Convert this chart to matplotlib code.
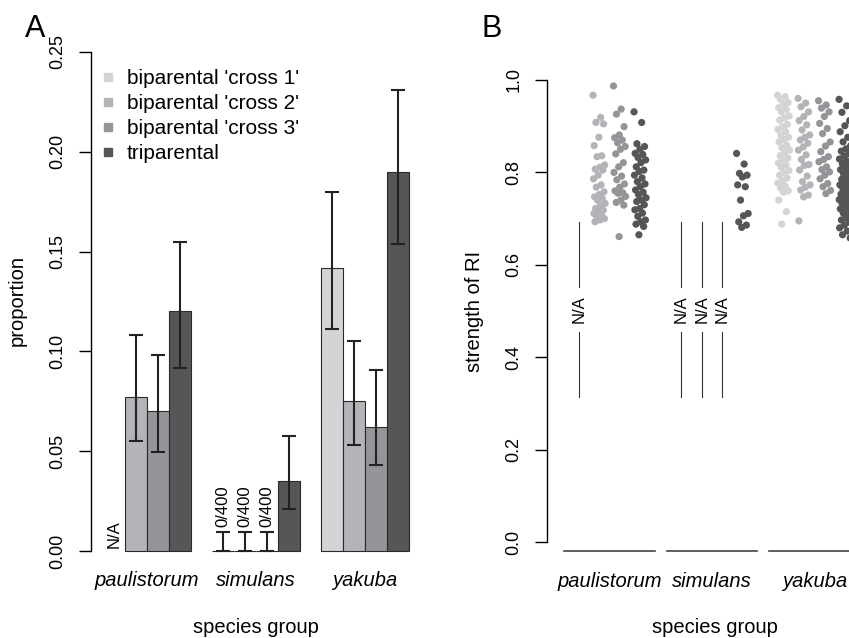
import numpy as np
import matplotlib
matplotlib.use("Agg")
import matplotlib.pyplot as plt
from matplotlib.lines import Line2D

plt.rcParams["font.family"] = ["Liberation Sans", "DejaVu Sans"]

nan = np.nan

groups = ["paulistorum", "simulans", "yakuba"]
series = ["biparental 'cross 1'", "biparental 'cross 2'",
          "biparental 'cross 3'", "triparental"]
colors = ["#d3d4d6", "#b3b4b7", "#949598", "#545658"]

# panel A: proportion, one row per series, one value per group (nan = N/A)
prop = [[nan, 0.0, 0.142],
        [0.077, 0.0, 0.075],
        [0.070, 0.0, 0.062],
        [0.120, 0.035, 0.190]]
prop_lo = [[nan, 0.0, 0.111],
           [0.055, 0.0, 0.053],
           [0.0495, 0.0, 0.043],
           [0.0915, 0.021, 0.154]]
prop_hi = [[nan, 0.0095, 0.180],
           [0.108, 0.0095, 0.105],
           [0.098, 0.0095, 0.0905],
           [0.155, 0.0575, 0.231]]
zero_count = "0/400"

# panel B: strength of RI per cross (None = N/A)
ri_paul_c2 = [0.967, 0.919, 0.908, 0.905, 0.876, 0.858, 0.836, 0.834, 0.816,
              0.811, 0.807, 0.805, 0.794, 0.786, 0.773, 0.768, 0.758, 0.752,
              0.747, 0.744, 0.740, 0.733, 0.728, 0.722, 0.718, 0.715, 0.711,
              0.708, 0.704, 0.700, 0.697, 0.693]
ri_paul_c3 = [0.987, 0.937, 0.926, 0.899, 0.881, 0.875, 0.870, 0.864, 0.856,
              0.850, 0.840, 0.821, 0.812, 0.800, 0.792, 0.784, 0.775, 0.768,
              0.760, 0.756, 0.755, 0.748, 0.740, 0.735, 0.729, 0.661]
ri_paul_tri = [0.931, 0.908, 0.862, 0.856, 0.850, 0.841, 0.839, 0.832, 0.827,
               0.821, 0.812, 0.805, 0.802, 0.794, 0.788, 0.780, 0.775, 0.769,
               0.762, 0.757, 0.752, 0.745, 0.740, 0.737, 0.730, 0.722, 0.719,
               0.712, 0.705, 0.697, 0.693, 0.688, 0.683, 0.665]
ri_sim_tri = [0.841, 0.818, 0.798, 0.794, 0.790, 0.773, 0.769, 0.740, 0.711,
              0.706, 0.693, 0.686, 0.681]
ri_yak_c1 = [0.967, 0.964, 0.958, 0.951, 0.947, 0.940, 0.936, 0.931, 0.922,
             0.918, 0.913, 0.904, 0.899, 0.893, 0.888, 0.880, 0.876, 0.871,
             0.866, 0.859, 0.853, 0.848, 0.843, 0.836, 0.831, 0.827, 0.820,
             0.816, 0.811, 0.804, 0.799, 0.794, 0.788, 0.781, 0.777, 0.770,
             0.766, 0.760, 0.757, 0.740, 0.715, 0.688]
ri_yak_c2 = [0.960, 0.950, 0.942, 0.931, 0.921, 0.912, 0.903, 0.892, 0.881,
             0.876, 0.870, 0.863, 0.855, 0.848, 0.838, 0.828, 0.817, 0.815,
             0.805, 0.792, 0.780, 0.773, 0.768, 0.762, 0.751, 0.747, 0.695]
ri_yak_c3 = [0.955, 0.946, 0.939, 0.931, 0.921, 0.906, 0.895, 0.884, 0.866,
             0.857, 0.845, 0.834, 0.828, 0.823, 0.812, 0.806, 0.801, 0.794,
             0.786, 0.776, 0.769, 0.761, 0.754]
ri_yak_tri = [0.958, 0.944, 0.930, 0.912, 0.901, 0.888, 0.876, 0.866, 0.858,
              0.851, 0.846, 0.840, 0.835, 0.829, 0.824, 0.819, 0.815, 0.810,
              0.806, 0.801, 0.797, 0.793, 0.789, 0.785, 0.781, 0.777, 0.773,
              0.769, 0.765, 0.761, 0.757, 0.753, 0.749, 0.745, 0.741, 0.737,
              0.733, 0.729, 0.725, 0.721, 0.716, 0.712, 0.707, 0.702, 0.697,
              0.692, 0.686, 0.680, 0.673, 0.665, 0.658]
ri_columns = [[None, ri_paul_c2, ri_paul_c3, ri_paul_tri],
              [None, None, None, ri_sim_tri],
              [ri_yak_c1, ri_yak_c2, ri_yak_c3, ri_yak_tri]]
na_span = (0.3145, 0.693)


def main() -> None:
    fig = plt.figure(figsize=(8.49, 6.38), dpi=100)

    # ---------------- panel A ----------------
    ax = fig.add_axes([91 / 849, 67 / 638, 330 / 849, 539 / 638])
    for k in range(4):
        for g in range(3):
            x = 1 + 5 * g + k + 0.5
            h = prop[k][g]
            if np.isnan(h):
                ax.text(x, 0.0015, "N/A", rotation=90, ha="center",
                        va="bottom", fontsize=12)
                continue
            ax.bar(x, h, width=1, color=colors[k], edgecolor="#2a2a2a",
                   linewidth=0.8, zorder=2)
            ax.errorbar(x, h, yerr=[[h - prop_lo[k][g]], [prop_hi[k][g] - h]],
                        fmt="none", ecolor="#222222", elinewidth=1.5,
                        capsize=4.7, capthick=1.5, zorder=3)
            if h == 0:
                ax.text(x, 0.012, zero_count, rotation=90, ha="center",
                        va="bottom", fontsize=12)

    ax.set_xlim(0.44, 15.56)
    ax.set_ylim(-0.01, 0.26)
    for s in ["top", "right", "bottom"]:
        ax.spines[s].set_visible(False)
    ax.spines["left"].set_bounds(0, 0.25)
    ax.spines["left"].set_linewidth(1.0)
    ax.set_yticks([0, 0.05, 0.10, 0.15, 0.20, 0.25])
    ax.set_yticklabels(["0.00", "0.05", "0.10", "0.15", "0.20", "0.25"],
                       rotation=90, va="center")
    ax.set_xticks([3, 8, 13])
    ax.set_xticklabels(groups, fontstyle="italic", fontsize=14.5)
    ax.tick_params(axis="x", length=0, pad=0)
    ax.tick_params(axis="y", length=8.6, width=1.0, labelsize=13, pad=9)

    handles = [Line2D([], [], marker="s", linestyle="none", markersize=6.3,
                      color=c) for c in colors]
    ax.legend(handles, series, loc="upper left", bbox_to_anchor=(0.0326, 0.931),
              frameon=False, fontsize=15, handlelength=0.6, handletextpad=0.61,
              labelspacing=0.29, borderaxespad=0, borderpad=0)

    # ---------------- panel B ----------------
    bx = fig.add_axes([547 / 849, 77.5 / 638, 302 / 849, 499 / 638])
    for g in range(3):
        for k in range(4):
            col = 5 * g + k
            vals = ri_columns[g][k]
            if vals is None:
                lo, hi = na_span
                mid = (lo + hi) / 2
                bx.plot([col, col], [lo, mid - 0.049], color="#333333", lw=0.8)
                bx.plot([col, col], [mid + 0.049, hi], color="#333333", lw=0.8)
                bx.text(col, mid, "N/A", rotation=90, ha="center", va="center",
                        fontsize=12)
                continue
            n = len(vals)
            jitter = ((np.arange(n) * 0.618034) % 1 - 0.5) * 0.6
            bx.scatter(col + jitter, vals, s=27, color=colors[k],
                       edgecolors="none", zorder=3)
        bx.plot([5 * g - 0.7, 5 * g + 3.7], [-0.019, -0.019], color="#444444",
                lw=1.2, clip_on=False)

    bx.set_xlim(-1.546, 13.185)
    bx.set_ylim(-0.04, 1.04)
    for s in ["top", "right", "bottom"]:
        bx.spines[s].set_visible(False)
    bx.spines["left"].set_bounds(0, 1.0)
    bx.spines["left"].set_linewidth(1.0)
    bx.set_yticks([0, 0.2, 0.4, 0.6, 0.8, 1.0])
    bx.set_yticklabels(["0.0", "0.2", "0.4", "0.6", "0.8", "1.0"],
                       rotation=90, va="center")
    bx.set_xticks([1.5, 6.5, 11.5])
    bx.set_xticklabels(groups, fontstyle="italic", fontsize=14.5)
    bx.tick_params(axis="x", length=0, pad=8)
    bx.tick_params(axis="y", length=8.6, width=1.0, labelsize=13, pad=9)

    # labels
    fig.text(17.5 / 849, 1 - 301 / 638, "proportion", rotation=90,
             ha="center", va="center", fontsize=14.5)
    fig.text(474.5 / 849, 1 - 311 / 638, "strength of RI", rotation=90,
             ha="center", va="center", fontsize=14.5)
    fig.text(256 / 849, 1 - 633 / 638, "species group", ha="center",
             va="baseline", fontsize=14.5)
    fig.text(715 / 849, 1 - 633 / 638, "species group", ha="center",
             va="baseline", fontsize=14.5)
    fig.text(35 / 849, 1 - 37 / 638, "A", ha="center", va="baseline",
             fontsize=22)
    fig.text(492 / 849, 1 - 37 / 638, "B", ha="center", va="baseline",
             fontsize=22)

    fig.savefig("out.png", dpi=100)
    plt.close(fig)


if __name__ == "__main__":
    main()
